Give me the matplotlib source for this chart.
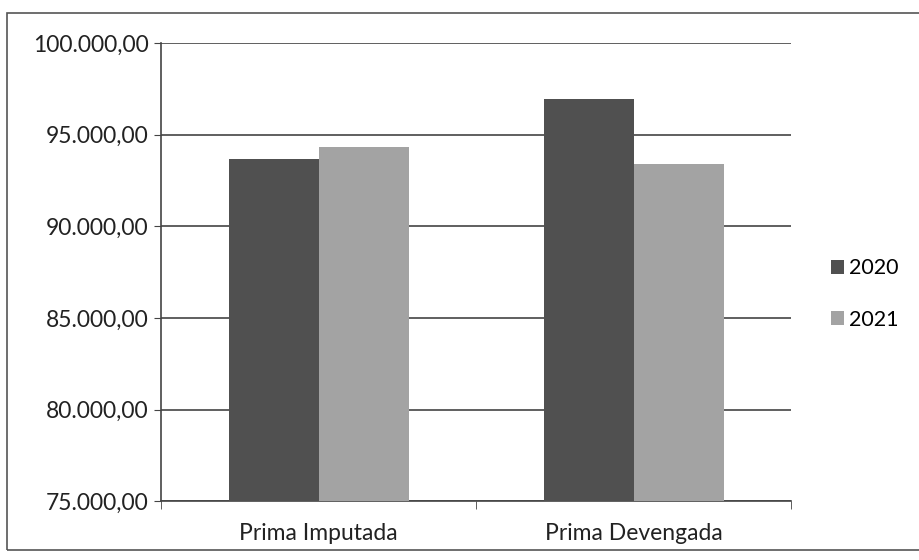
import matplotlib
matplotlib.use('Agg')
import matplotlib.pyplot as plt
from matplotlib.ticker import FuncFormatter, FixedLocator
from matplotlib.patches import Rectangle
import numpy as np

categories = ['Prima Imputada', 'Prima Devengada']
years = ['2020', '2021']
values_2020 = [93700, 96950]
values_2021 = [94350, 93400]
colors = ['#505050', '#a3a3a3']

plt.rcParams['font.family'] = ['Lato', 'DejaVu Sans']

fig = plt.figure(figsize=(9.2, 5.6), dpi=100)
ax = fig.add_axes([0.175, 0.105, 0.685, 0.818])

# border around the whole chart
fig.patches.append(Rectangle((0.008, 0.018), 1.2, 0.959, transform=fig.transFigure,
                             fill=False, edgecolor='#555555', linewidth=1.2))

x = np.arange(len(categories))
w = 1 / 3.5
ax.bar(x - w / 2, values_2020, w, color=colors[0], label=years[0], zorder=3)
ax.bar(x + w / 2, values_2021, w, color=colors[1], label=years[1], zorder=3)

ax.set_xlim(-0.5, 1.5)
ax.set_ylim(75000, 100000)
ax.set_yticks(np.arange(75000, 100001, 5000))


def fmt(v, pos):
    s = f'{v:,.2f}'
    return s.replace(',', 'X').replace('.', ',').replace('X', '.')


ax.yaxis.set_major_formatter(FuncFormatter(fmt))
ax.grid(True, axis='y', color='#444444', linewidth=1.2, zorder=0)

ax.set_xticks(x)
ax.set_xticklabels(categories)
ax.tick_params(axis='x', which='major', length=0, pad=16, labelsize=16.5, colors='#222222')
ax.xaxis.set_minor_locator(FixedLocator([-0.5, 0.5, 1.5]))
ax.tick_params(axis='x', which='minor', length=6, color='#444444', direction='out')
ax.tick_params(axis='y', length=5, color='#444444', labelsize=16.5, colors='#222222', pad=4)

for s in ['top', 'right']:
    ax.spines[s].set_visible(False)
for s in ['left', 'bottom']:
    ax.spines[s].set_color('#444444')
    ax.spines[s].set_linewidth(1.2)

leg = fig.legend(loc='center left', bbox_to_anchor=(0.903, 0.475), frameon=False,
                 fontsize=15.5, handlelength=0.6, handleheight=0.6, handletextpad=0.25,
                 labelspacing=1.45, borderpad=0, borderaxespad=0)

fig.savefig('out.png', dpi=100)
